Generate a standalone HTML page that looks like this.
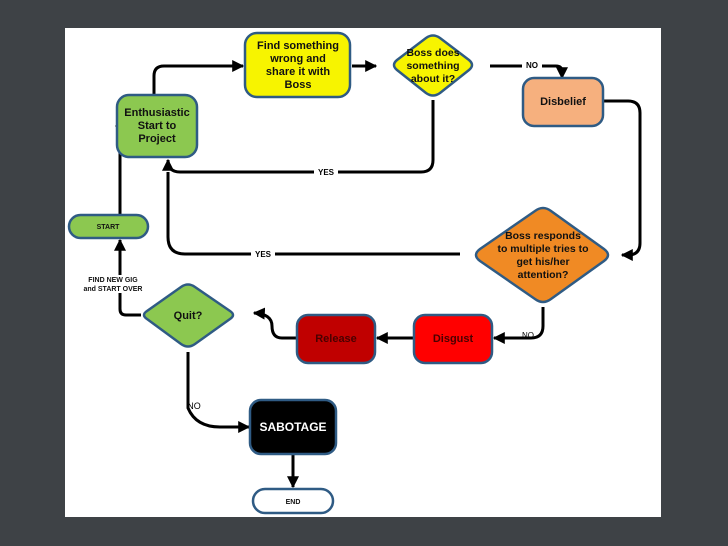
<!DOCTYPE html>
<html><head><style>
body{margin:0;width:728px;height:546px;background:#3e4246;overflow:hidden;font-family:"Liberation Sans",sans-serif}
</style></head><body>
<svg width="728" height="546" viewBox="0 0 728 546" xmlns="http://www.w3.org/2000/svg" style="position:absolute;left:0;top:0">
<defs><marker id="a" viewBox="0 0 10 10" refX="9" refY="5" markerWidth="4" markerHeight="4" orient="auto"><path d="M0,0L10,5L0,10z" fill="#000"/></marker></defs>
<rect x="65" y="28" width="596" height="489" fill="#fff"/>
<g fill="none" stroke="#000" stroke-width="3">
<path d="M154,95 V76 Q154,66 164,66 H243" marker-end="url(#a)"/>
<path d="M352,66 H376" marker-end="url(#a)"/>
<path d="M490,66 H556 Q562,66 562,72 V78" marker-end="url(#a)"/>
<path d="M604,101 H628 Q640,101 640,113 V243 Q640,255 628,255 H622" marker-end="url(#a)"/>
<path d="M433,100 V160 Q433,172 421,172 H180 Q168,172 168,160" marker-end="url(#a)"/>
<path d="M460,254 H185 Q168,254 168,237 V172"/>
<path d="M543,307 V326 Q543,338 531,338 H494" marker-end="url(#a)"/>
<path d="M413,338 H377" marker-end="url(#a)"/>
<path d="M296,338 H282 Q272,338 272,326 Q272,314 254,313" marker-end="url(#a)"/>
<path d="M141,315 H126 Q120,315 120,309 V240" marker-end="url(#a)"/>
<path d="M120,214 V126 H116" marker-end="url(#a)"/>
<path d="M188,352 V408 Q196,427 220,427 H249" marker-end="url(#a)"/>
<path d="M293,455 V487" marker-end="url(#a)"/>
</g>
<g stroke="#2f5b84" stroke-width="2.5" stroke-linejoin="round">
<rect x="245" y="33" width="105" height="64" rx="12" fill="#f7f400"/>
<path d="M426,38 Q433,33 440,38 L469,60 Q475,65 469,70 L440,93 Q433,98 426,93 L397,70 Q391,65 397,60Z" fill="#f7f400"/>
<rect x="523" y="78" width="80" height="48" rx="11" fill="#f6b07e"/>
<rect x="117" y="95" width="80" height="62" rx="12" fill="#8cc850"/>
<rect x="69" y="215" width="79" height="23" rx="11.5" fill="#8cc850"/>
<path d="M535,211 Q543,205 551,211 L604,249 Q612,255 604,261 L551,299 Q543,305 535,299 L480,261 Q472,255 480,249Z" fill="#f08a24"/>
<path d="M181,287 Q188,282 195,287 L230,311 Q236,315 230,319 L195,344 Q188,349 181,344 L147,319 Q141,315 147,311Z" fill="#8cc850"/>
<rect x="297" y="315" width="78" height="48" rx="11" fill="#c00000"/>
<rect x="414" y="315" width="78" height="48" rx="11" fill="#ff0000"/>
<rect x="250" y="400" width="86" height="54" rx="11" fill="#000"/>
<rect x="253" y="489" width="80" height="24" rx="12" fill="#fff"/>
</g>
<g font-weight="bold" text-anchor="middle" font-size="11" fill="#111">
<text x="298" y="49">Find something</text><text x="298" y="62">wrong and</text><text x="298" y="75">share it with</text><text x="298" y="88">Boss</text>
<text x="433" y="56" font-size="10.5">Boss does</text><text x="433" y="69" font-size="10.5">something</text><text x="433" y="82" font-size="10.5">about it?</text>
<text x="563" y="105">Disbelief</text>
<text x="157" y="116">Enthusiastic</text><text x="157" y="129">Start to</text><text x="157" y="142">Project</text>
<text x="108" y="229" font-size="7">START</text>
<text x="543" y="239" font-size="10.5">Boss responds</text><text x="543" y="252" font-size="10.5">to multiple tries to</text><text x="543" y="265" font-size="10.5">get his/her</text><text x="543" y="278" font-size="10.5">attention?</text>
<text x="188" y="319">Quit?</text>
<text x="336" y="342" fill="#4a0000">Release</text>
<text x="453" y="342" fill="#4a0000">Disgust</text>
<text x="293" y="431" fill="#fff" font-size="12">SABOTAGE</text>
<text x="293" y="504" font-size="7">END</text>
<rect x="82" y="275" width="62" height="18" fill="#fff" stroke="none"/>
<text x="113" y="282" font-size="7">FIND NEW GIG</text><text x="113" y="291" font-size="7">and START OVER</text>
</g>
<g font-size="8" font-family="Liberation Sans" text-anchor="middle">
<rect x="522" y="60" width="20" height="10" fill="#fff"/><text x="532" y="68" font-weight="bold">NO</text>
<rect x="314" y="167" width="24" height="10" fill="#fff"/><text x="326" y="175" font-weight="bold">YES</text>
<rect x="251" y="249" width="24" height="10" fill="#fff"/><text x="263" y="257" font-weight="bold">YES</text>
<text x="528" y="338">NO</text>
<text x="194" y="409" font-size="9">NO</text>
</g>
</svg>
</body></html>
